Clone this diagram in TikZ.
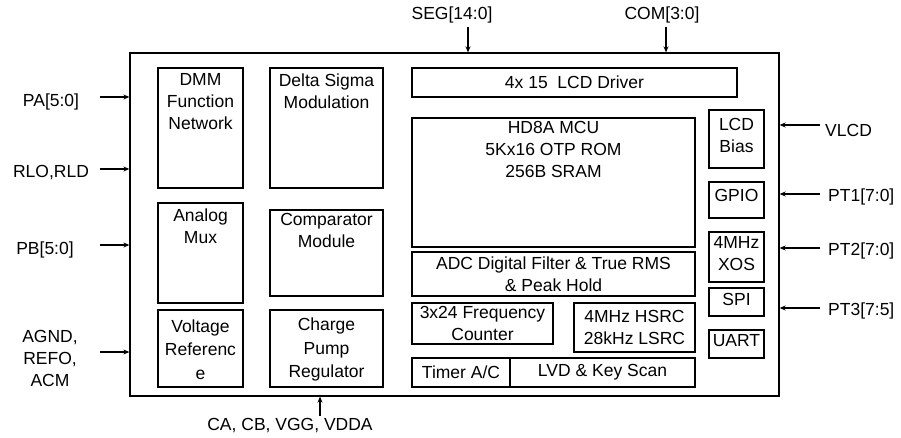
\documentclass[tikz,border=0pt]{standalone}
\usepackage{fontspec}
\setmainfont{Liberation Sans}
\usetikzlibrary{arrows.meta,fit}
\begin{document}
\begin{tikzpicture}[x=1pt,y=-1pt,
  every node/.style={font=\fontsize{17.5}{22}\selectfont, inner sep=0pt},
  blk/.style={draw, line width=1.3pt, inner sep=0pt},
  lbl/.style={align=center},
  arr/.style={line width=1.3pt, -{Stealth[length=6pt,width=5pt]}}]
\useasboundingbox (0,0) rectangle (901,438);
% chip outline
\node[blk, fit={(130,53) (779,396)}] (chip) {};
% left column
\node[blk, fit={(158,68) (243,188)}] (dmm) {};
\node[lbl, anchor=north] (dmmT) at ([yshift=-6pt]dmm.north) {DMM\\Function\\Network};
\node[blk, fit={(270,68) (383,188)}] (dsm) {};
\node[lbl, anchor=north] (dsmT) at ([yshift=-6pt]dsm.north) {Delta Sigma\\Modulation};
\node[blk, fit={(158,203) (243,303)}] (mux) {};
\node[lbl, anchor=north] (muxT) at ([yshift=-6pt]mux.north) {Analog\\Mux};
\node[blk, fit={(270,210) (383,296)}] (cmp) {};
\node[lbl, anchor=north] (cmpT) at ([yshift=-4pt]cmp.north) {Comparator\\Module};
\node[blk, fit={(158,310) (243,387)}] (vref) {};
\node[lbl, font=\fontsize{17.5}{23.5}\selectfont] (vrefT) at ([yshift=-1pt]vref.center) {Voltage\\Referenc\\e};
\node[blk, fit={(270,310) (383,387)}] (cp) {};
\node[lbl, font=\fontsize{17.5}{23.5}\selectfont] (cpT) at ([yshift=-1pt]cp.center) {Charge\\Pump\\Regulator};
% middle
\node[blk, fit={(412,68) (737,97)}] (lcd) {};
\node[lbl] (lcdT) at (lcd.center) {4x 15\ \ LCD Driver};
\node[blk, fit={(412,118) (695,247)}] (mcu) {};
\node[lbl, anchor=north] (mcuT) at ([yshift=-4pt]mcu.north) {HD8A MCU\\5Kx16 OTP ROM\\256B SRAM};
\node[blk, fit={(412,252) (695,296)}] (adc) {};
\node[lbl] (adcT) at (adc.center) {ADC Digital Filter \& True RMS\\\& Peak Hold};
\node[blk, fit={(412,303) (553,344)}] (frq) {};
\node[lbl] (frqT) at (frq.center) {3x24 Frequency\\Counter};
\node[blk, fit={(574,303) (695,352)}] (osc) {};
\node[lbl] (oscT) at (osc.center) {4MHz HSRC\\28kHz LSRC};
\node[blk, fit={(412,358) (510,387)}] (tmr) {};
\node[lbl] (tmrT) at (tmr.center) {Timer A/C};
\node[blk, fit={(510,358) (695,387)}] (lvd) {};
\node[lbl] (lvdT) at (lvd.center) {LVD \& Key Scan};
% right column
\node[blk, fit={(709,110) (764,168)}] (bias) {};
\node[lbl] (biasT) at ([yshift=4pt]bias.center) {LCD\\Bias};
\node[blk, fit={(709,182) (764,218)}] (gpio) {};
\node[lbl] (gpioT) at ([yshift=5pt]gpio.center) {GPIO};
\node[blk, fit={(709,232) (764,282)}] (xos) {};
\node[lbl] (xosT) at ([yshift=3pt]xos.center) {4MHz\\XOS};
\node[blk, fit={(709,288) (764,316)}] (spi) {};
\node[lbl] (spiT) at ([yshift=3pt]spi.center) {SPI};
\node[blk, fit={(709,330) (764,358)}] (uart) {};
\node[lbl] (uartT) at ([yshift=3pt]uart.center) {UART};
% left signals
\node[lbl] (pa) at (51,102) {PA[5:0]};
\coordinate (paS) at (100,97);
\draw[arr] (paS) -- (paS -| chip.west);
\node[lbl] (rl) at (51,173) {RLO,RLD};
\coordinate (rlS) at (100,169);
\draw[arr] (rlS) -- (rlS -| chip.west);
\node[lbl] (pb) at (45,250) {PB[5:0]};
\coordinate (pbS) at (100,245);
\draw[arr] (pbS) -- (pbS -| chip.west);
\node[lbl] (ag) at (50,358) {AGND,\\REFO,\\ACM};
\coordinate (agS) at (100,352);
\draw[arr] (agS) -- (agS -| chip.west);
% top signals
\node[lbl] (seg) at (452,15) {SEG[14:0]};
\coordinate (segS) at (468,27);
\draw[arr] (segS) -- (segS |- chip.north);
\node[lbl] (com) at (662,15) {COM[3:0]};
\coordinate (comS) at (666,27);
\draw[arr] (comS) -- (comS |- chip.north);
% bottom signal
\node[lbl] (bot) at (290,426) {CA, CB, VGG, VDDA};
\coordinate (botS) at (320,416);
\draw[arr] (botS) -- (botS |- chip.south);
% right signals
\node[lbl, anchor=west] (vlcd) at (825,130) {VLCD};
\coordinate (vlS) at (820,125);
\draw[arr] (vlS) -- (vlS -| chip.east);
\node[lbl, anchor=west] (pt1) at (828,197) {PT1[7:0]};
\coordinate (p1S) at (820,194);
\draw[arr] (p1S) -- (p1S -| chip.east);
\node[lbl, anchor=west] (pt2) at (828,251) {PT2[7:0]};
\coordinate (p2S) at (820,248);
\draw[arr] (p2S) -- (p2S -| chip.east);
\node[lbl, anchor=west] (pt3) at (828,311) {PT3[7:5]};
\coordinate (p3S) at (820,308);
\draw[arr] (p3S) -- (p3S -| chip.east);
\end{tikzpicture}
\end{document}
